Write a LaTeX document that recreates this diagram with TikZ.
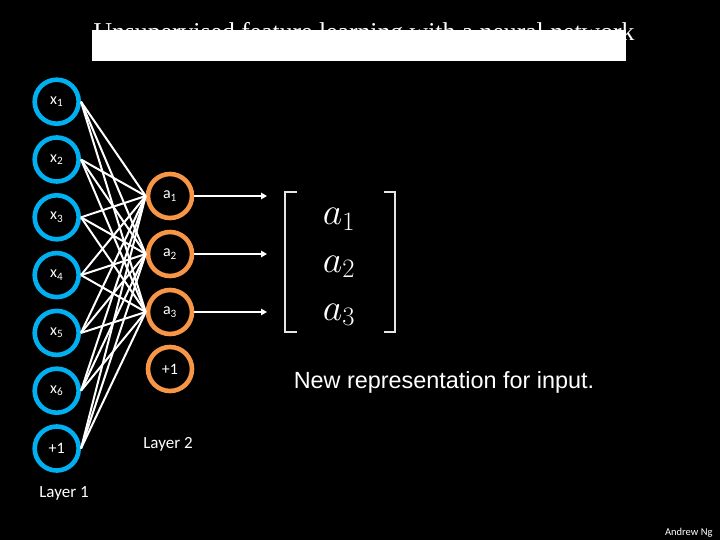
\documentclass[tikz,border=0pt]{standalone}
\usepackage{fix-cm}
\usepackage{fontspec}
\setmainfont{Carlito}
\newfontfamily\titlefont{Liberation Serif}
\newfontfamily\captionfont{Liberation Sans}
\usetikzlibrary{positioning,arrows.meta}
\definecolor{inblue}{RGB}{0,176,240}
\definecolor{hidorange}{RGB}{247,150,70}
\tikzset{
    unit/.style = {draw, circle, line width=4.6pt, minimum size=44pt, inner sep=0pt, text=white, font=\fontsize{16}{16}\selectfont},
    inunit/.style = {unit, draw=inblue},
    hidunit/.style = {unit, draw=hidorange},
    weight/.style = {draw=white, line width=2pt},
    feed/.style = {draw=white, line width=2.3pt, -{Triangle[length=6pt,width=6.5pt]}},
    bracket/.style = {draw=white!90!black, line width=2.5pt},
    layer/.style = {text=white, anchor=base, font=\fontsize{17}{17}\selectfont},
    entry/.style = {text=white, anchor=base, font=\fontsize{38}{40}\selectfont},
}

\begin{document}
\begin{tikzpicture}[x=1pt, y=-1pt, on grid]
    % Background
    \fill[black] (0,0) rectangle (720,540);
    \useasboundingbox (0,0) rectangle (720,540);

    % Title, half covered by the white bar
    \node[text=white, anchor=base, font=\titlefont\fontsize{25.7}{26}\selectfont] (title) at (364,41) {Unsupervised feature learning with a neural network};
    \node[fill=white, minimum width=534pt, minimum height=31pt, inner sep=0pt] (bar) at (359,45.5) {};

    % Layer 1
    \node[inunit] (x1) at (56.7,101.7) {x\textsubscript{1}};
    \node[inunit, below=57.8pt of x1] (x2) {x\textsubscript{2}};
    \node[inunit, below=57.8pt of x2] (x3) {x\textsubscript{3}};
    \node[inunit, below=57.8pt of x3] (x4) {x\textsubscript{4}};
    \node[inunit, below=57.8pt of x4] (x5) {x\textsubscript{5}};
    \node[inunit, below=57.8pt of x5] (x6) {x\textsubscript{6}};
    \node[inunit, below=57.8pt of x6] (b1) {+1};

    % Layer 2
    \node[hidunit] (a1) at (170,196) {a\textsubscript{1}};
    \node[hidunit, below=58pt of a1] (a2) {a\textsubscript{2}};
    \node[hidunit, below=58pt of a2] (a3) {a\textsubscript{3}};
    \node[hidunit, below=57pt of a3] (b2) {+1};

    % Weights
    \foreach \src in {x1,x2,x3,x4,x5,x6,b1}
        \foreach \dst in {a1,a2,a3}
            \draw[weight] (\src.east) -- (\dst.west);

    % Outputs
    \coordinate[right=97pt of a1] (r1);
    \coordinate[right=97pt of a2] (r2);
    \coordinate[right=97pt of a3] (r3);
    \draw[feed] (a1) -- (r1);
    \draw[feed] (a2) -- (r2);
    \draw[feed] (a3) -- (r3);

    % Feature vector
    \node[entry] (v1) at (339,225) {$a_1$};
    \node[entry] (v2) at (339,272) {$a_2$};
    \node[entry] (v3) at (339,320) {$a_3$};
    \draw[bracket] (296.7,192) -- (285,192) -- (285,332) -- (296.7,332);
    \draw[bracket] (384,192) -- (395,192) -- (395,332) -- (384,332);

    % Labels
    \node[text=white, anchor=base, font=\captionfont\fontsize{23.4}{24}\selectfont] (newrep) at (444,388) {New representation for input.};
    \node[layer] (l2) at (168,448.5) {Layer 2};
    \node[layer] (l1) at (64,497.5) {Layer 1};
    \node[text=white, anchor=base east, font=\fontsize{10.5}{11}\selectfont] (author) at (716,535) {Andrew Ng};
\end{tikzpicture}
\end{document}
